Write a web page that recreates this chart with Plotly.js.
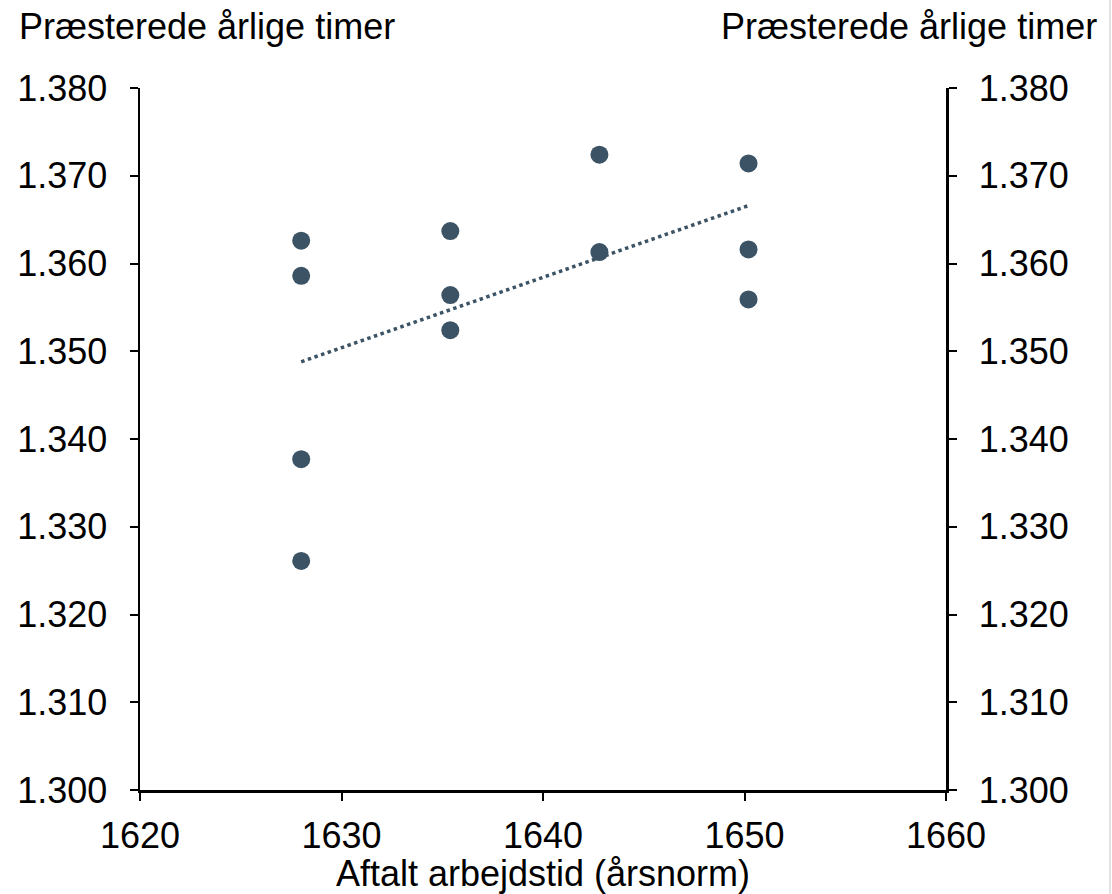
<!DOCTYPE html>
<html>
<head>
<meta charset="utf-8">
<script src="https://cdn.plot.ly/plotly-3.0.1.min.js"></script>
<style>html,body{margin:0;padding:0;background:#fff;}#chart{width:1112px;height:894px;}</style>
</head>
<body>
<div id="chart"></div>
<script>
// Data
const agreedHours = [1628, 1628, 1628, 1628, 1635.4, 1635.4, 1635.4, 1642.8, 1642.8, 1650.2, 1650.2, 1650.2];
const workedHours = [1362.6, 1358.6, 1337.7, 1326.1, 1363.7, 1356.4, 1352.4, 1372.4, 1361.3, 1371.4, 1361.6, 1355.9];
const trendX = [1628, 1650.2];
const trendY = [1348.8, 1366.6];
const yTitle = 'Præsterede årlige timer';
const xTitle = 'Aftalt arbejdstid (årsnorm)';

const col = '#3b5364';
const font = {family: 'Liberation Sans, Arial, sans-serif', size: 36, color: '#000'};

const traces = [
  {x: trendX, y: trendY, type: 'scatter', mode: 'lines', yaxis: 'y2',
   line: {color: col, width: 3.5, dash: 'dot'}, hoverinfo: 'skip', showlegend: false},
  {x: agreedHours, y: workedHours, type: 'scatter', mode: 'markers',
   marker: {color: col, size: 18}, showlegend: false}
];

const yCommon = {
  range: [1300, 1380], dtick: 10, tick0: 1300, tickformat: ',d',
  showgrid: false, zeroline: false, showline: true, linecolor: '#000', linewidth: 2.5,
  ticks: 'outside', ticklen: 8, tickwidth: 2, tickcolor: '#000',
  ticklabelstandoff: 15,
  tickfont: font
};

const layout = {
  width: 1112, height: 894,
  margin: {l: 140, r: 166, t: 88, b: 104},
  paper_bgcolor: '#fff', plot_bgcolor: '#fff',
  separators: ',.',
  font: font,
  showlegend: false,
  xaxis: {
    range: [1620, 1660], dtick: 10, tick0: 1620, tickformat: 'd',
    showgrid: false, zeroline: false, showline: true, linecolor: '#000', linewidth: 2.5,
    ticks: 'outside', ticklen: 8, tickwidth: 2, tickcolor: '#000',
    ticklabelstandoff: 4,
    tickfont: font,
    title: {text: xTitle, font: font, standoff: 3}
  },
  yaxis: Object.assign({}, yCommon),
  yaxis2: Object.assign({overlaying: 'y', side: 'right'}, yCommon),
  annotations: [
    {text: yTitle, xref: 'paper', yref: 'paper', x: -0.152, y: 1.088,
     xanchor: 'left', yanchor: 'middle', showarrow: false, font: font},
    {text: yTitle, xref: 'paper', yref: 'paper', x: 1.19, y: 1.088,
     xanchor: 'right', yanchor: 'middle', showarrow: false, font: font}
  ],
  shapes: [
    {type: 'line', xref: 'paper', yref: 'paper', x0: 1.2035, x1: 1.2035, y0: -0.2, y1: 1.2,
     line: {color: '#c8c8c8', width: 1}}
  ]
};

Plotly.newPlot('chart', traces, layout, {displayModeBar: false, staticPlot: true});
</script>
</body>
</html>
